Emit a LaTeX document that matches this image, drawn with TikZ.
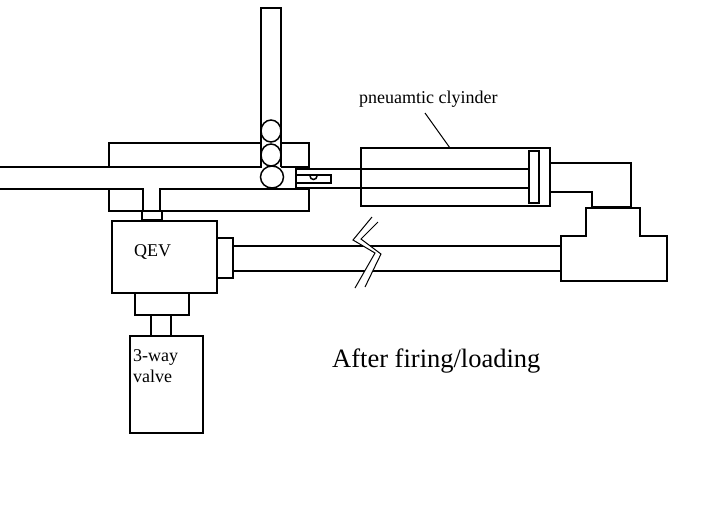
\documentclass[tikz,border=0pt]{standalone}
\usepackage{fontspec}
\setmainfont{Liberation Serif}
\tikzset{
    % Style for the outlines of all the parts
    part/.style={
        draw,
        line width=1.5pt,
        line join=miter
    },
    % Style for the seats that are drawn heavier
    seat/.style={
        draw,
        line width=2.6pt
    },
    % Style for the short labels on the parts
    tag/.style={
        font=\fontsize{18}{21}\selectfont,
        inner sep=0pt,
        align=left,
        anchor=north west
    },
    % Style for the large caption
    caption/.style={
        font=\fontsize{26.5}{30}\selectfont,
        inner sep=0pt,
        anchor=west
    }
}
\begin{document}
\begin{tikzpicture}[x=1pt,y=-1pt]
    \useasboundingbox (0,0) rectangle (704,528);

    % --- Barrel block and the loading tube ---
    \draw[part] (109,167) |- (261,143);
    \draw[part] (281,143) -| (309,167) -- (281,167);
    \draw[part] (0,167) -- (261,167) -- (261,8) -- (281,8) -- (281,167);
    \draw[part] (0,189) -- (143,189) -- (143,211);
    \draw[part] (160,211) -- (160,189) -- (309,189);
    \draw[part] (109,189) |- (309,211) -- (309,189);

    % --- Balls in the tube ---
    \draw[part] (271,131) ellipse [x radius=10, y radius=11];
    \draw[part] (271,155) ellipse [x radius=10, y radius=11];
    \draw[part] (272,177) ellipse [x radius=11.5, y radius=11];

    % --- Rod end in the barrel ---
    \draw[part] (296,168) -- (296,188);
    \draw[part] (296,175) rectangle (331,183);
    \draw[part] (310,176) arc [start angle=180, end angle=0, radius=3.5];

    % --- Cylinder and piston ---
    \draw[part] (361,148) rectangle (550,206);
    \draw[part] (296,169) -- (529,169);
    \draw[part] (296,188) -- (529,188);
    \draw[part] (529,151) rectangle (539,203);
    \node (cylinder_label) [tag, anchor=west] at (359,99) {pneuamtic clyinder};
    \coordinate (leader_top) at (425,113);
    \coordinate (leader_end) at (450,148);
    \draw[line width=1pt] (leader_top) -- (leader_end);

    % --- Elbow and the tee ---
    \draw[part] (550,163) -| (631,208);
    \draw[part] (550,192) -| (592,208);
    \draw[part] (586,208) -- (640,208) |- (667,236) |- (561,281) |- (586,236) -- cycle;
    \draw[seat] (592,207) -- (631,207);

    % --- Valve stack ---
    \draw[part] (142,211) rectangle (162,220);
    \draw[part] (112,221) rectangle (217,293);
    \draw[part] (217,238) rectangle (233,278);
    \draw[part] (135,293) rectangle (189,315);
    \draw[part] (151,315) rectangle (171,336);
    \draw[part] (130,336) rectangle (203,433);
    \draw[seat] (151,336) -- (171,336);
    \node (qev_label) [tag, anchor=west] at (134,252) {QEV};
    \node (valve_label) [tag] at (133,349) {3-way\\valve};

    % --- Long line with its break ---
    \draw[part] (233,246) -- (561,246);
    \draw[part] (233,271) -- (561,271);
    \fill[white] (372,217) -- (353,240) -- (375,253) -- (355,288) -- (365,287)
        -- (381,254) -- (361,239) -- (378,222) -- cycle;
    \draw[line width=1pt] (372,217) -- (353,240) -- (375,253) -- (355,288);
    \draw[line width=1pt] (378,222) -- (361,239) -- (381,254) -- (365,287);

    % --- Caption ---
    \node (state_caption) [caption] at (332,361) {After firing/loading};
\end{tikzpicture}
\end{document}
